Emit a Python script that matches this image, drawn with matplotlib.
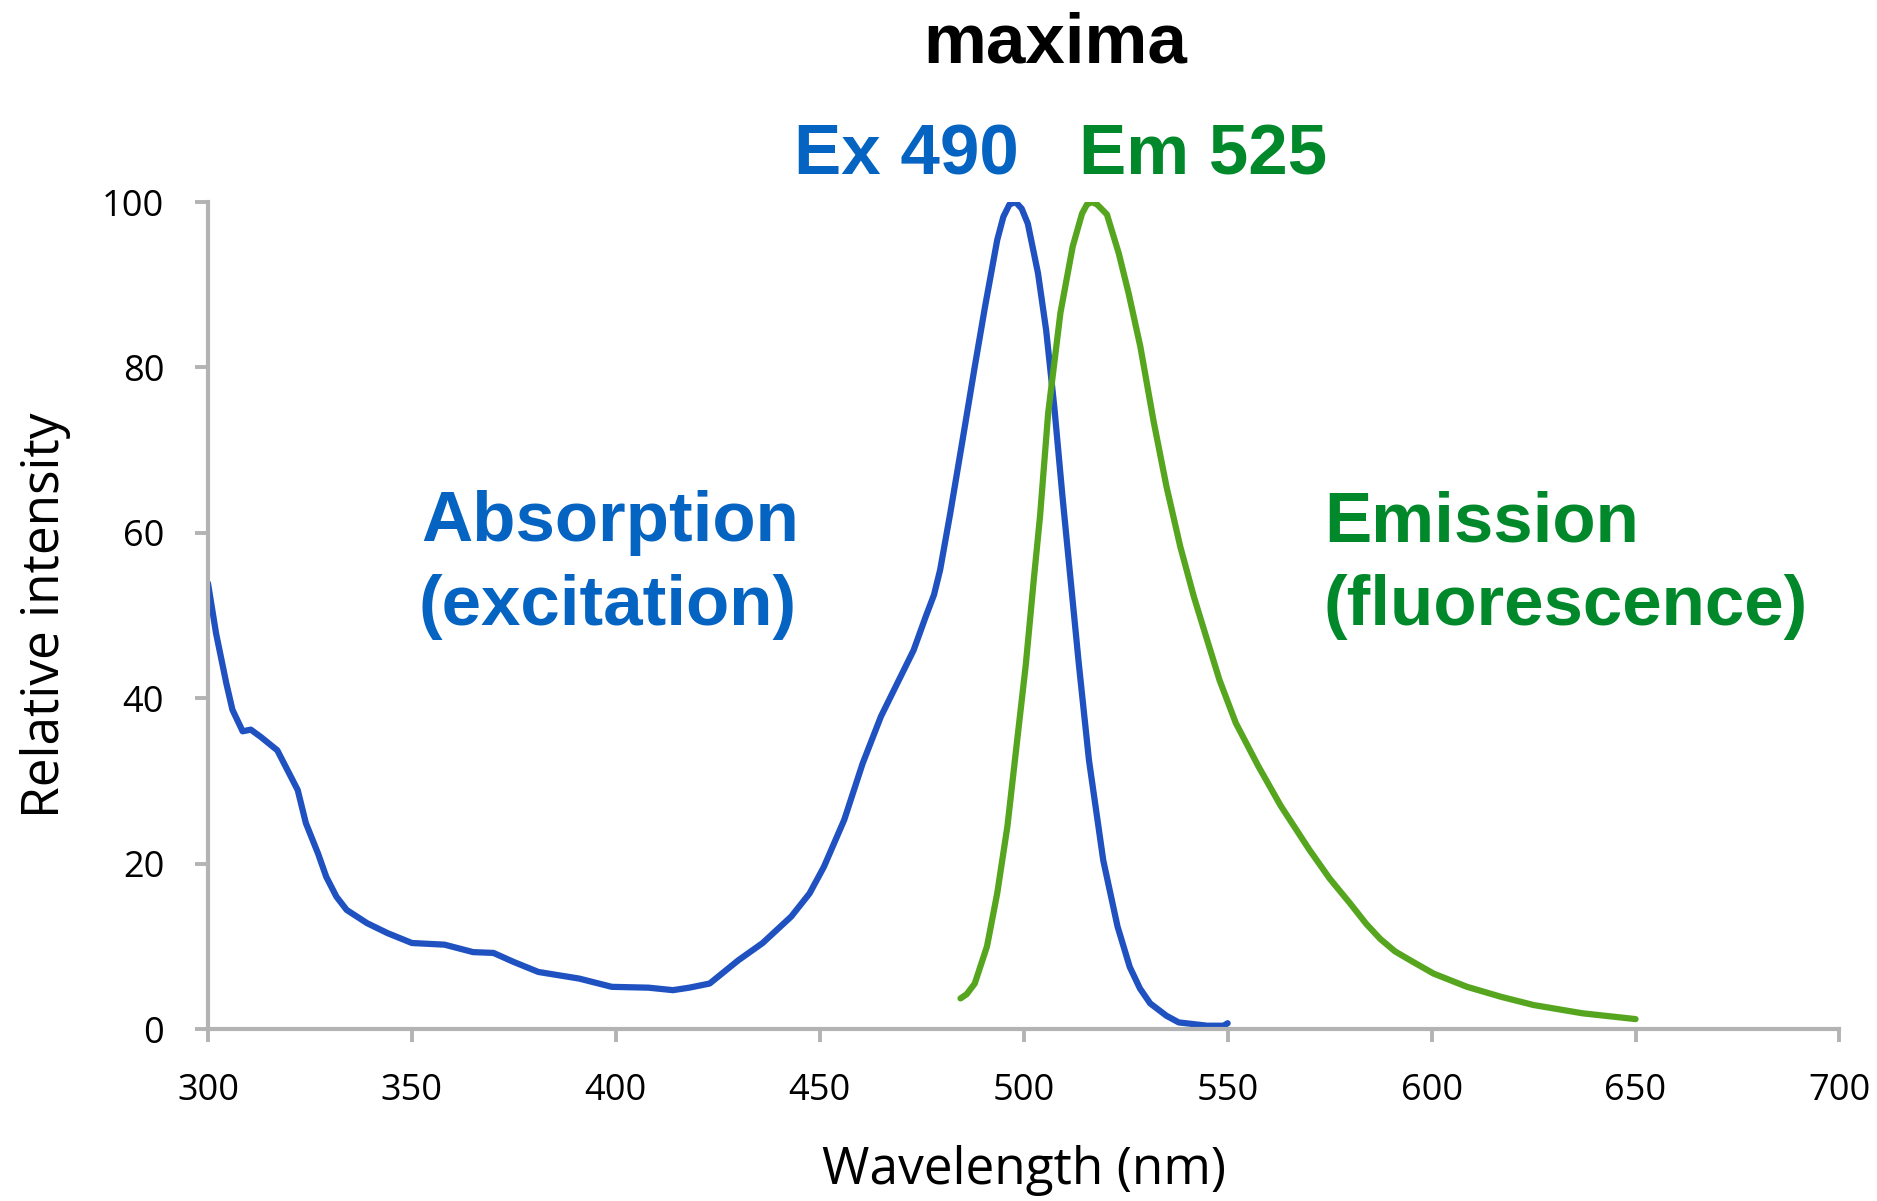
import matplotlib
matplotlib.use('Agg')
import matplotlib.pyplot as plt

# Absorption (excitation) spectrum
abs_wl = [300, 302, 304.5, 306, 308.5, 310.5, 313, 317, 319.5, 322, 324, 327, 329, 331.5, 334,
          339, 344, 350, 358, 365, 370, 375, 381, 391, 399, 408, 414, 418, 423, 430,
          436, 443, 447.5, 451, 456, 460.5, 465, 469, 473, 476, 478, 479.5, 482, 485, 488,
          490.5, 493.5, 495, 496.5, 498, 499.5, 501, 503.5, 505.5, 507.5, 509.5, 511.5, 513.5, 516,
          519.5, 523, 526, 528.5, 531, 535, 538, 545, 549, 550]
abs_int = [53.9, 47.8, 41.8, 38.6, 36.0, 36.2, 35.3, 33.7, 31.3, 28.9, 24.9, 21.2, 18.4, 16.0, 14.4,
           12.8, 11.6, 10.4, 10.2, 9.3, 9.2, 8.1, 6.9, 6.1, 5.1, 5.0, 4.7, 5.0, 5.5, 8.3,
           10.4, 13.6, 16.4, 19.6, 25.3, 32.1, 37.8, 41.8, 45.8, 49.9, 52.5, 55.5, 62.4, 71.2, 80.1,
           87.3, 95.4, 98.2, 99.7, 100, 99.2, 97.4, 91.4, 84.5, 75.2, 64.4, 54.3, 44.2, 32.5,
           20.4, 12.4, 7.5, 4.9, 3.1, 1.6, 0.8, 0.4, 0.4, 0.7]

# Emission (fluorescence) spectrum
em_wl = [484.5, 486, 488, 491, 493.5, 496, 498.3, 500.5, 502.5, 504, 506, 509, 512, 514.3,
         515.5, 516.7, 518, 520.4, 523.3, 525.7, 528.6, 531.8, 535, 538.4, 541.7, 545, 548, 552, 557.5,
         563, 570, 575, 580, 584, 587.4, 591, 594.8, 600.5, 608.7, 617, 625, 637, 650]
em_int = [3.7, 4.2, 5.5, 10, 16.4, 24.5, 34.5, 44, 54.5, 62, 74.5, 86.6, 94.6, 98.6,
          99.7, 100, 99.7, 98.5, 93.8, 89, 82.5, 73.6, 65.6, 58.3, 52.3, 47, 42.2, 37, 31.8,
          27, 21.7, 18.2, 15.2, 12.7, 10.9, 9.4, 8.3, 6.7, 5.1, 3.9, 2.9, 1.9, 1.2]

x_ticks = [300, 350, 400, 450, 500, 550, 600, 650, 700]
y_ticks = [0, 20, 40, 60, 80, 100]

blue_text = '#0563c1'
green_text = '#00882b'
axis_grey = '#b3b3b3'

fig = plt.figure(figsize=(18.77, 12.01), dpi=100)
ax = fig.add_axes([0.1108, 0.1432, 0.8692, 0.6886])

ax.plot(abs_wl, abs_int, color='#1f52c0', lw=4.5, solid_capstyle='round', solid_joinstyle='round')
ax.plot(em_wl, em_int, color='#56a51f', lw=4.5, solid_capstyle='round', solid_joinstyle='round')

ax.set_xlim(300, 700)
ax.set_ylim(0, 100)
ax.set_xticks(x_ticks)
ax.set_yticks(y_ticks)

for side in ['top', 'right']:
    ax.spines[side].set_visible(False)
for side in ['left', 'bottom']:
    ax.spines[side].set_color(axis_grey)
    ax.spines[side].set_linewidth(3)
ax.tick_params(direction='out', length=9.5, width=2.8, color=axis_grey, pad=22,
               labelsize=26)
for lab in ax.get_xticklabels() + ax.get_yticklabels():
    lab.set_family('Open Sans')

ax.set_xlabel('Wavelength (nm)', fontsize=37, family='Open Sans', labelpad=26)
ax.set_ylabel('Relative intensity', fontsize=37, family='Open Sans', labelpad=22)

bold = dict(family='Liberation Sans', weight='bold', fontsize=51)
ax.text(352.2, 59, 'Absorption', color=blue_text, ha='left', va='baseline', **bold)
ax.text(351.7, 48.9, '(excitation)', color=blue_text, ha='left', va='baseline', **bold)
ax.text(573.7, 59, 'Emission', color=green_text, ha='left', va='baseline', **bold)
ax.text(573.4, 48.9, '(fluorescence)', color=green_text, ha='left', va='baseline', **bold)

fig.text(0.562, 0.948, 'maxima', color='black', ha='center', va='baseline', **bold)
fig.text(0.4827, 0.855, 'Ex 490', color=blue_text, ha='center', va='baseline', **bold)
fig.text(0.641, 0.855, 'Em 525', color=green_text, ha='center', va='baseline', **bold)

fig.savefig('out.png', dpi=100, facecolor='white')
